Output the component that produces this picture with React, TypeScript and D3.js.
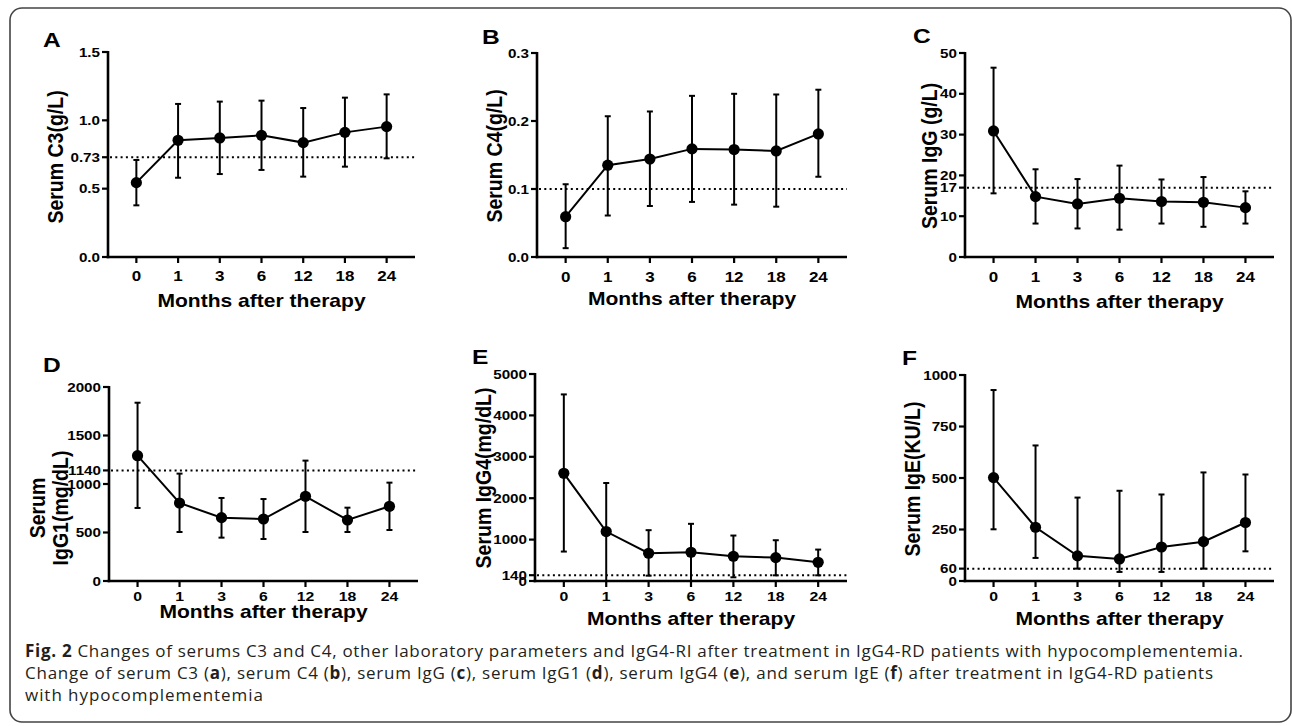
import React from "react";
import * as d3 from "d3";

// ---------- DATA ----------
const months = ["0", "1", "3", "6", "12", "18", "24"];

// A: Serum C3 (g/L)
const c3Mean = [0.544, 0.854, 0.871, 0.89, 0.837, 0.912, 0.954];
const c3Upper = [0.71, 1.12, 1.137, 1.144, 1.09, 1.166, 1.19];
const c3Lower = [0.378, 0.58, 0.607, 0.637, 0.588, 0.661, 0.722];
const c3Ticks = [0, 0.5, 0.73, 1.0, 1.5];
const c3TickLabels = ["0.0", "0.5", "0.73", "1.0", "1.5"];
const c3Ref = 0.73;
const c3Max = 1.5;

// B: Serum C4 (g/L)
const c4Mean = [0.0593, 0.135, 0.144, 0.159, 0.158, 0.156, 0.181];
const c4Upper = [0.107, 0.207, 0.214, 0.237, 0.24, 0.239, 0.246];
const c4Lower = [0.013, 0.061, 0.075, 0.081, 0.077, 0.074, 0.118];
const c4Ticks = [0, 0.1, 0.2, 0.3];
const c4TickLabels = ["0.0", "0.1", "0.2", "0.3"];
const c4Ref = 0.1;
const c4Max = 0.3;

// C: Serum IgG (g/L)
const iggMean = [30.9, 14.8, 13.0, 14.4, 13.6, 13.4, 12.1];
const iggUpper = [46.4, 21.5, 19.1, 22.4, 19.0, 19.6, 16.1];
const iggLower = [15.6, 8.2, 7.0, 6.7, 8.2, 7.4, 8.2];
const iggTicks = [0, 10, 17, 20, 30, 40, 50];
const iggTickLabels = ["0", "10", "17", "20", "30", "40", "50"];
const iggRef = 17;
const iggMax = 50;

// D: Serum IgG1 (mg/dL)
const igg1Mean = [1292, 804, 653, 639, 873, 629, 770];
const igg1Upper = [1838, 1107, 856, 845, 1241, 756, 1014];
const igg1Lower = [753, 505, 447, 433, 505, 505, 526];
const igg1Ticks = [0, 500, 1000, 1140, 1500, 2000];
const igg1TickLabels = ["0", "500", "1000", "1140", "1500", "2000"];
const igg1Ref = 1140;
const igg1Max = 2000;

// E: Serum IgG4 (mg/dL)
const igg4Mean = [2601, 1195, 670, 695, 598, 565, 452];
const igg4Upper = [4507, 2367, 1228, 1381, 1098, 985, 759];
const igg4Lower = [711, 0, 129, 0, 89, 137, 137];
const igg4Ticks = [0, 140, 1000, 2000, 3000, 4000, 5000];
const igg4TickLabels = ["0", "140", "1000", "2000", "3000", "4000", "5000"];
const igg4Ref = 140;
const igg4Max = 5000;

// F: Serum IgE (KU/L)
const igeMean = [502, 261, 122, 107, 165, 191, 284];
const igeUpper = [927, 658, 405, 438, 420, 527, 517];
const igeLower = [251, 112, 60, 44, 44, 60, 144];
const igeTicks = [0, 60, 250, 500, 750, 1000];
const igeTickLabels = ["0", "60", "250", "500", "750", "1000"];
const igeRef = 60;
const igeMax = 1000;

const xTitle = "Months after therapy";

const captionLine1Bold = "Fig. 2";
const captionLine1 =
  " Changes of serums C3 and C4, other laboratory parameters and IgG4-RI after treatment in IgG4-RD patients with hypocomplementemia.";
const captionLine3 = "with hypocomplementemia";

// ---------- LAYOUT ----------
const SX = 1.17; // horizontal stretch of the figure's text
const FONT = "'Liberation Sans', Arial, Helvetica, sans-serif";

type Layout = {
  axisX: number;
  axisEnd: number;
  top: number;
  bottom: number;
  letterX: number;
  letterY: number;
  yLabelX: number[];
  yLabelY: number;
  xTickY: number;
  xTickSize: number;
  xLabelY: number;
};

type PanelProps = {
  letter: string;
  yLabel: string[];
  mean: number[];
  upper: number[];
  lower: number[];
  ticks: number[];
  tickLabels: string[];
  refValue: number;
  yMax: number;
  layout: Layout;
};

function Panel(p: PanelProps) {
  const L = p.layout;
  const x = d3
    .scalePoint<string>()
    .domain(months)
    .range([L.axisX, L.axisEnd])
    .padding(0.68);
  const y = d3.scaleLinear().domain([0, p.yMax]).range([L.bottom, L.top]);
  const pts = months.map((m, i) => [x(m) as number, y(p.mean[i])] as [number, number]);
  const line = d3.line()(pts) || "";
  const xs = months.map((m) => x(m) as number);
  const xCenter = (xs[0] + xs[xs.length - 1]) / 2;
  const capW = 3;

  return (
    <g>
      <text
        transform={`translate(${L.letterX},${L.letterY}) scale(${SX},1)`}
        fontSize={21}
        fontWeight="bold"
        fontFamily={FONT}
      >
        {p.letter}
      </text>
      {p.yLabel.map((t, i) => (
        <text
          key={i}
          transform={`translate(${L.yLabelX[i]},${L.yLabelY}) rotate(-90) scale(1,${SX})`}
          fontSize={19.5}
          fontWeight="bold"
          fontFamily={FONT}
          textAnchor="middle"
        >
          {t}
        </text>
      ))}
      <line
        x1={L.axisX + 2}
        x2={L.axisEnd}
        y1={y(p.refValue)}
        y2={y(p.refValue)}
        stroke="#000"
        strokeWidth={2}
        strokeDasharray="2 3.3"
      />
      <line x1={L.axisX} x2={L.axisX} y1={L.top - 1} y2={L.bottom + 1.2} stroke="#000" strokeWidth={2.6} />
      {p.ticks.map((t, i) => (
        <g key={i}>
          <line x1={L.axisX - 6} x2={L.axisX} y1={y(t)} y2={y(t)} stroke="#000" strokeWidth={2.2} />
          <text
            transform={`translate(${L.axisX - 8},${y(t)}) scale(${SX},1)`}
            fontSize={13}
            fontWeight="bold"
            fontFamily={FONT}
            textAnchor="end"
            dy="0.36em"
          >
            {p.tickLabels[i]}
          </text>
        </g>
      ))}
      <line x1={L.axisX - 1.3} x2={L.axisEnd} y1={L.bottom} y2={L.bottom} stroke="#000" strokeWidth={2.6} />
      {months.map((m, i) => (
        <g key={m}>
          <line x1={xs[i]} x2={xs[i]} y1={L.bottom} y2={L.bottom + 6} stroke="#000" strokeWidth={2.2} />
          <text
            transform={`translate(${xs[i]},${L.xTickY}) scale(${SX},1)`}
            fontSize={L.xTickSize}
            fontWeight="bold"
            fontFamily={FONT}
            textAnchor="middle"
          >
            {m}
          </text>
        </g>
      ))}
      <text
        transform={`translate(${xCenter},${L.xLabelY}) scale(${SX},1)`}
        fontSize={18}
        fontWeight="bold"
        fontFamily={FONT}
        textAnchor="middle"
      >
        {xTitle}
      </text>
      {months.map((m, i) => {
        const yu = y(p.upper[i]);
        const yl = y(Math.max(0, p.lower[i]));
        return (
          <g key={"e" + m} stroke="#000" strokeWidth={2}>
            <line x1={xs[i]} x2={xs[i]} y1={yu} y2={yl} />
            <line x1={xs[i] - capW} x2={xs[i] + capW} y1={yu} y2={yu} />
            <line x1={xs[i] - capW} x2={xs[i] + capW} y1={yl} y2={yl} />
          </g>
        );
      })}
      <path d={line} fill="none" stroke="#000" strokeWidth={2} />
      {pts.map((pt, i) => (
        <circle key={i} cx={pt[0]} cy={pt[1]} r={5.6} fill="#000" />
      ))}
    </g>
  );
}

const layouts: Record<string, Layout> = {
  A: { axisX: 108, axisEnd: 415, top: 52, bottom: 257, letterX: 43, letterY: 47, yLabelX: [63], yLabelY: 157, xTickY: 281, xTickSize: 14.5, xLabelY: 307 },
  B: { axisX: 537, axisEnd: 847, top: 53, bottom: 257, letterX: 482, letterY: 44, yLabelX: [502], yLabelY: 156, xTickY: 282, xTickSize: 14.5, xLabelY: 305 },
  C: { axisX: 965, axisEnd: 1274, top: 53, bottom: 257, letterX: 913, letterY: 43, yLabelX: [937], yLabelY: 156, xTickY: 282, xTickSize: 14.5, xLabelY: 308 },
  D: { axisX: 109, axisEnd: 418, top: 387, bottom: 581, letterX: 43, letterY: 372, yLabelX: [45, 68], yLabelY: 508, xTickY: 601, xTickSize: 13.5, xLabelY: 618 },
  E: { axisX: 535, axisEnd: 847, top: 374, bottom: 581, letterX: 472, letterY: 364, yLabelX: [491], yLabelY: 478, xTickY: 601, xTickSize: 13.5, xLabelY: 625 },
  F: { axisX: 965, axisEnd: 1274, top: 375, bottom: 581, letterX: 902, letterY: 365, yLabelX: [920], yLabelY: 479, xTickY: 601, xTickSize: 13.5, xLabelY: 625 },
};

export default function App() {
  const capFont = "'Open Sans', 'Noto Sans', sans-serif";
  const capColor = "#231f20";
  return (
    <svg
      width={1292}
      height={726}
      style={{ position: "absolute", left: 0, top: 0, background: "#fff" }}
    >
      <rect x={0} y={0} width={1292} height={726} fill="#fff" />
      <rect x={10} y={8} width={1281} height={714} rx={12} fill="none" stroke="#444" strokeWidth={1.6} />
      <Panel letter="A" yLabel={["Serum C3(g/L)"]} mean={c3Mean} upper={c3Upper} lower={c3Lower} ticks={c3Ticks} tickLabels={c3TickLabels} refValue={c3Ref} yMax={c3Max} layout={layouts.A} />
      <Panel letter="B" yLabel={["Serum C4(g/L)"]} mean={c4Mean} upper={c4Upper} lower={c4Lower} ticks={c4Ticks} tickLabels={c4TickLabels} refValue={c4Ref} yMax={c4Max} layout={layouts.B} />
      <Panel letter="C" yLabel={["Serum IgG (g/L)"]} mean={iggMean} upper={iggUpper} lower={iggLower} ticks={iggTicks} tickLabels={iggTickLabels} refValue={iggRef} yMax={iggMax} layout={layouts.C} />
      <Panel letter="D" yLabel={["Serum", "IgG1(mg/dL)"]} mean={igg1Mean} upper={igg1Upper} lower={igg1Lower} ticks={igg1Ticks} tickLabels={igg1TickLabels} refValue={igg1Ref} yMax={igg1Max} layout={layouts.D} />
      <Panel letter="E" yLabel={["Serum IgG4(mg/dL)"]} mean={igg4Mean} upper={igg4Upper} lower={igg4Lower} ticks={igg4Ticks} tickLabels={igg4TickLabels} refValue={igg4Ref} yMax={igg4Max} layout={layouts.E} />
      <Panel letter="F" yLabel={["Serum IgE(KU/L)"]} mean={igeMean} upper={igeUpper} lower={igeLower} ticks={igeTicks} tickLabels={igeTickLabels} refValue={igeRef} yMax={igeMax} layout={layouts.F} />

      <g fontFamily={capFont} fontSize={17} fill={capColor}>
        <text x={25} y={657} textLength={1218}>
          <tspan fontWeight="bold">{captionLine1Bold}</tspan>
          {captionLine1}
        </text>
        <text x={25} y={679} textLength={1188}>
          {"Change of serum C3 ("}
          <tspan fontWeight="bold">a</tspan>
          {"), serum C4 ("}
          <tspan fontWeight="bold">b</tspan>
          {"), serum IgG ("}
          <tspan fontWeight="bold">c</tspan>
          {"), serum IgG1 ("}
          <tspan fontWeight="bold">d</tspan>
          {"), serum IgG4 ("}
          <tspan fontWeight="bold">e</tspan>
          {"), and serum IgE ("}
          <tspan fontWeight="bold">f</tspan>
          {") after treatment in IgG4-RD patients"}
        </text>
        <text x={25} y={701} textLength={238}>
          {captionLine3}
        </text>
      </g>
    </svg>
  );
}
